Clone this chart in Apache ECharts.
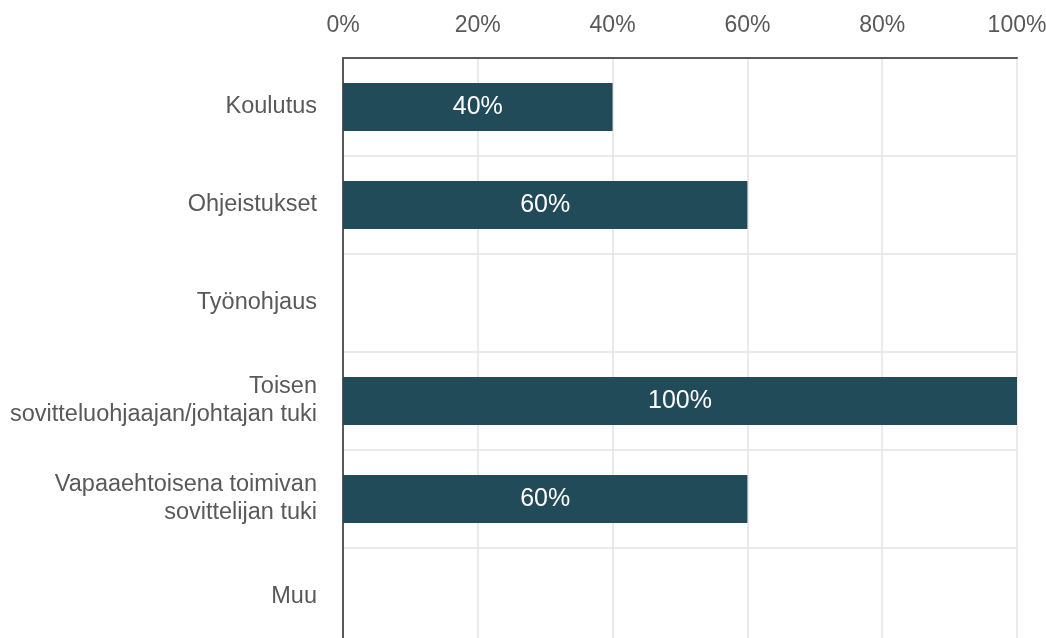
<!DOCTYPE html>
<html>
<head>
<meta charset="utf-8">
<script src="https://cdn.jsdelivr.net/npm/echarts@6/dist/echarts.min.js"></script>
<style>html,body{margin:0;padding:0;background:#fff}#c{width:1046px;height:638px}</style>
</head>
<body>
<div id="c"></div>
<script>
const categories = ["Koulutus", "Ohjeistukset", "Työnohjaus", "Toisen\nsovitteluohjaajan/johtajan tuki", "Vapaaehtoisena toimivan\nsovittelijan tuki", "Muu"];
const values = [40, 60, 0, 100, 60, 0];
const xTicks = [0, 20, 40, 60, 80, 100];

const chart = echarts.init(document.getElementById('c'));
chart.setOption({
  animation: false,
  grid: { left: 343, right: 29, top: 58, height: 588, containLabel: false, outerBoundsMode: 'none' },
  xAxis: {
    type: 'value', position: 'top', min: xTicks[0], max: xTicks[xTicks.length - 1], interval: 20,
    axisLine: { show: true, lineStyle: { color: '#595959', width: 2 } },
    axisTick: { show: false },
    axisLabel: { formatter: v => v + '%', color: '#595959', fontSize: 23, fontFamily: 'Liberation Sans', margin: 21 },
    splitLine: { show: true, lineStyle: { color: '#e3e3e3', width: 1.5 } }
  },
  yAxis: {
    type: 'category', data: categories, inverse: true,
    axisLine: { show: true, lineStyle: { color: '#595959', width: 2 } },
    axisTick: { show: false },
    axisLabel: { color: '#595959', fontSize: 23.5, fontFamily: 'Liberation Sans', margin: 26, lineHeight: 28, align: 'right' },
    splitLine: { show: true, lineStyle: { color: '#e3e3e3', width: 1.5 } }
  },
  series: [{
    type: 'bar', data: values, barWidth: 48,
    itemStyle: { color: '#224B5A' },
    label: {
      show: true, position: 'inside', color: '#ffffff', fontSize: 25, fontFamily: 'Liberation Sans',
      formatter: p => p.value > 0 ? p.value + '%' : ''
    }
  }]
});
</script>
</body>
</html>
